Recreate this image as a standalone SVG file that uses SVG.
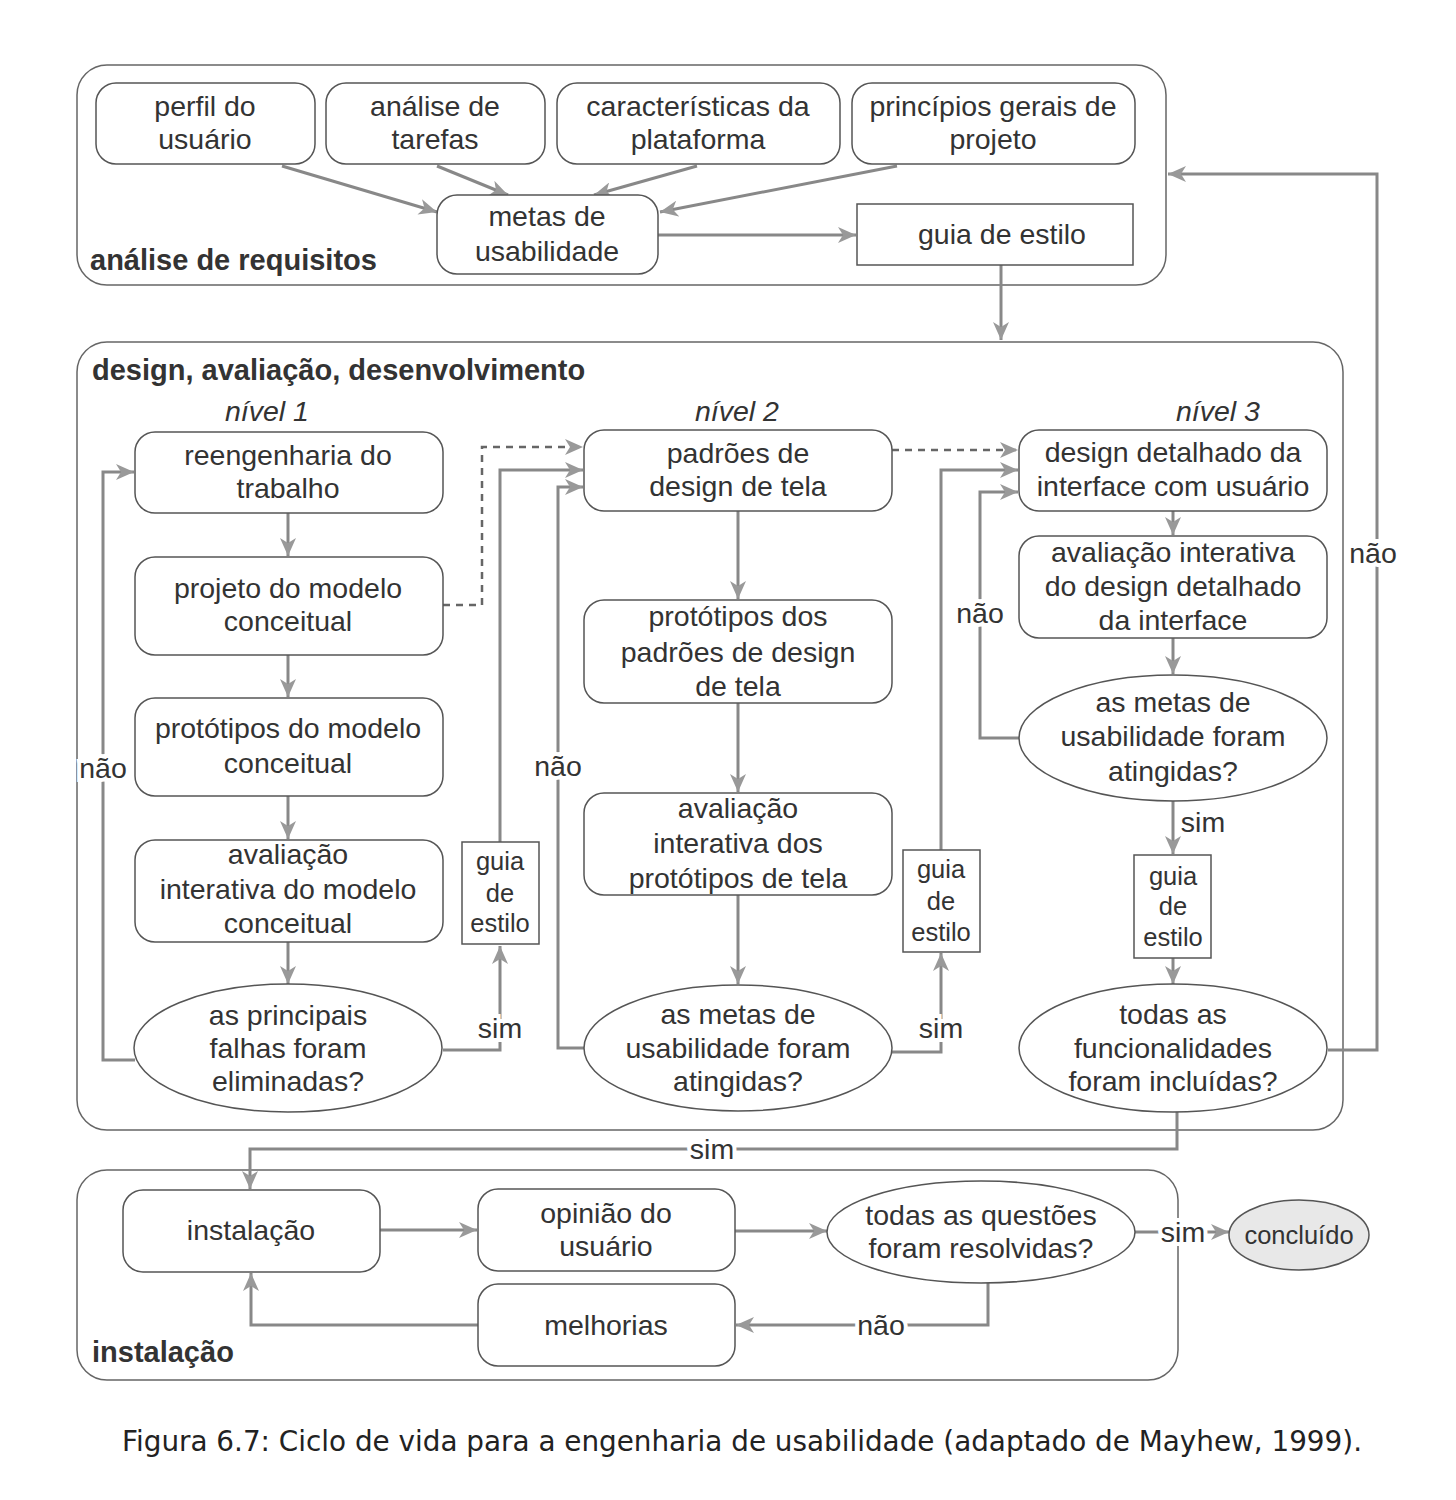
<svg xmlns="http://www.w3.org/2000/svg" width="1456" height="1500" viewBox="0 0 1456 1500">
<defs>
<marker id="ah" markerUnits="userSpaceOnUse" markerWidth="20" markerHeight="16" refX="18" refY="8" orient="auto">
<path d="M0,0 L18,8 L0,16 L5,8 Z" fill="#999"/>
</marker>
</defs>
<style>
.cont{fill:none;stroke:#666;stroke-width:1.5}
.box{fill:#fff;stroke:#555;stroke-width:1.5}
.t{font-family:"Liberation Sans",Arial,sans-serif;font-size:28.5px;fill:#333;text-anchor:middle}
.ts{font-family:"Liberation Sans",Arial,sans-serif;font-size:25.5px;fill:#333;text-anchor:middle}
.lb{font-family:"Liberation Sans",Arial,sans-serif;font-size:29px;font-weight:bold;fill:#333}
.lv{font-family:"Liberation Sans",Arial,sans-serif;font-size:28.5px;font-style:italic;fill:#333;text-anchor:middle}
.c{fill:none;stroke:#888;stroke-width:3}
.ca{fill:none;stroke:#888;stroke-width:3;marker-end:url(#ah)}
.cd{fill:none;stroke:#666;stroke-width:2.5;stroke-dasharray:7,6;marker-end:url(#ah)}
.lab{font-family:"Liberation Sans",Arial,sans-serif;font-size:28.5px;fill:#333;text-anchor:middle;stroke:#fff;stroke-width:8;paint-order:stroke}
</style>
<rect width="1456" height="1500" fill="#fff"/>

<g id="containers">
<rect class="cont" x="77" y="65" width="1089" height="220" rx="30"/>
<rect class="cont" x="77" y="342" width="1266" height="788" rx="30"/>
<rect class="cont" x="77" y="1170" width="1101" height="210" rx="30"/>
<text class="lb" x="90" y="270">análise de requisitos</text>
<text class="lb" x="92" y="380">design, avaliação, desenvolvimento</text>
<text class="lb" x="92" y="1362">instalação</text>
<text class="lv" x="267" y="421">nível 1</text>
<text class="lv" x="737" y="421">nível 2</text>
<text class="lv" x="1218" y="421">nível 3</text>
</g>

<g id="connectors">
<line class="ca" x1="282" y1="166" x2="437" y2="212"/>
<line class="ca" x1="437" y1="166" x2="508" y2="195"/>
<line class="ca" x1="697" y1="166" x2="594" y2="195"/>
<line class="ca" x1="897" y1="166" x2="660" y2="212"/>
<line class="ca" x1="658" y1="235" x2="856" y2="235"/>
<line class="ca" x1="1001" y1="265" x2="1001" y2="340"/>
<polyline class="ca" points="1328,1050 1377,1050 1377,174 1168,174"/>
<text class="lab" x="1373" y="563">não</text>

<line class="ca" x1="288" y1="513" x2="288" y2="556"/>
<line class="ca" x1="288" y1="655" x2="288" y2="697"/>
<line class="ca" x1="288" y1="796" x2="288" y2="839"/>
<line class="ca" x1="288" y1="942" x2="288" y2="984"/>
<polyline class="ca" points="135,1060 103,1060 103,472 134,472"/>
<text class="lab" x="103" y="778">não</text>
<polyline class="ca" points="443,1050 500,1050 500,946"/>
<text class="lab" x="500" y="1038">sim</text>
<polyline class="ca" points="500,842 500,470 583,470"/>
<polyline class="cd" points="443,605 482,605 482,447 583,447"/>

<line class="ca" x1="738" y1="511" x2="738" y2="599"/>
<line class="ca" x1="738" y1="703" x2="738" y2="792"/>
<line class="ca" x1="738" y1="895" x2="738" y2="984"/>
<polyline class="ca" points="584,1048 558,1048 558,487 583,487"/>
<text class="lab" x="558" y="776">não</text>
<polyline class="ca" points="892,1052 941,1052 941,953"/>
<text class="lab" x="941" y="1038">sim</text>
<polyline class="ca" points="941,850 941,470 1018,470"/>
<line class="cd" x1="892" y1="450" x2="1018" y2="450"/>

<line class="ca" x1="1173" y1="511" x2="1173" y2="535"/>
<line class="ca" x1="1173" y1="638" x2="1173" y2="674"/>
<polyline class="ca" points="1019,738 980,738 980,492 1018,492"/>
<text class="lab" x="980" y="623">não</text>
<line class="ca" x1="1173" y1="801" x2="1173" y2="854"/>
<text class="t" x="1203" y="832">sim</text>
<line class="ca" x1="1173" y1="958" x2="1173" y2="984"/>
<polyline class="ca" points="1177,1112 1177,1149 250,1149 250,1189"/>
<text class="lab" x="712" y="1159">sim</text>

<line class="ca" x1="380" y1="1230" x2="477" y2="1230"/>
<line class="ca" x1="735" y1="1231" x2="827" y2="1231"/>
<line class="ca" x1="1135" y1="1232" x2="1229" y2="1232"/>
<text class="lab" x="1183" y="1242">sim</text>
<polyline class="ca" points="988,1283 988,1325 736,1325"/>
<text class="lab" x="881" y="1335">não</text>
<polyline class="ca" points="478,1325 251,1325 251,1273"/>
</g>

<g id="n-perfil"><rect class="box" x="96" y="83" width="219" height="81" rx="20"/><text class="t" x="205" y="116">perfil do</text><text class="t" x="205" y="149">usuário</text></g>
<g id="n-tarefas"><rect class="box" x="326" y="83" width="219" height="81" rx="20"/><text class="t" x="435" y="116">análise de</text><text class="t" x="435" y="149">tarefas</text></g>
<g id="n-plataforma"><rect class="box" x="557" y="83" width="283" height="81" rx="20"/><text class="t" x="698" y="116">características da</text><text class="t" x="698" y="149">plataforma</text></g>
<g id="n-principios"><rect class="box" x="852" y="83" width="283" height="81" rx="20"/><text class="t" x="993" y="116">princípios gerais de</text><text class="t" x="993" y="149">projeto</text></g>
<g id="n-metas"><rect class="box" x="437" y="195" width="221" height="79" rx="20"/><text class="t" x="547" y="226">metas de</text><text class="t" x="547" y="261">usabilidade</text></g>
<g id="n-guia"><rect class="box" x="857" y="204" width="276" height="61"/><text class="t" x="1002" y="244">guia de estilo</text></g>

<g id="n-reeng"><rect class="box" x="135" y="432" width="308" height="81" rx="20"/><text class="t" x="288" y="465">reengenharia do</text><text class="t" x="288" y="498">trabalho</text></g>
<g id="n-projeto"><rect class="box" x="135" y="557" width="308" height="98" rx="20"/><text class="t" x="288" y="598">projeto do modelo</text><text class="t" x="288" y="631">conceitual</text></g>
<g id="n-prot1"><rect class="box" x="135" y="698" width="308" height="98" rx="20"/><text class="t" x="288" y="738">protótipos do modelo</text><text class="t" x="288" y="773">conceitual</text></g>
<g id="n-aval1"><rect class="box" x="135" y="840" width="308" height="102" rx="20"/><text class="t" x="288" y="864">avaliação</text><text class="t" x="288" y="899">interativa do modelo</text><text class="t" x="288" y="933">conceitual</text></g>
<g id="n-dec1"><ellipse class="box" cx="288" cy="1048" rx="154" ry="64"/><text class="t" x="288" y="1025">as principais</text><text class="t" x="288" y="1058">falhas foram</text><text class="t" x="288" y="1091">eliminadas?</text></g>
<g id="n-guia1"><rect class="box" x="462" y="842" width="77" height="102"/><text class="ts" x="500" y="870">guia</text><text class="ts" x="500" y="902">de</text><text class="ts" x="500" y="932">estilo</text></g>

<g id="n-padroes"><rect class="box" x="584" y="430" width="308" height="81" rx="20"/><text class="t" x="738" y="463">padrões de</text><text class="t" x="738" y="496">design de tela</text></g>
<g id="n-prot2"><rect class="box" x="584" y="600" width="308" height="103" rx="20"/><text class="t" x="738" y="626">protótipos dos</text><text class="t" x="738" y="662">padrões de design</text><text class="t" x="738" y="696">de tela</text></g>
<g id="n-aval2"><rect class="box" x="584" y="793" width="308" height="102" rx="20"/><text class="t" x="738" y="818">avaliação</text><text class="t" x="738" y="853">interativa dos</text><text class="t" x="738" y="888">protótipos de tela</text></g>
<g id="n-dec2"><ellipse class="box" cx="738" cy="1048" rx="154" ry="63"/><text class="t" x="738" y="1024">as metas de</text><text class="t" x="738" y="1058">usabilidade foram</text><text class="t" x="738" y="1091">atingidas?</text></g>
<g id="n-guia2"><rect class="box" x="903" y="850" width="77" height="102"/><text class="ts" x="941" y="878">guia</text><text class="ts" x="941" y="910">de</text><text class="ts" x="941" y="941">estilo</text></g>

<g id="n-design"><rect class="box" x="1019" y="430" width="308" height="81" rx="20"/><text class="t" x="1173" y="462">design detalhado da</text><text class="t" x="1173" y="496">interface com usuário</text></g>
<g id="n-aval3"><rect class="box" x="1019" y="536" width="308" height="102" rx="20"/><text class="t" x="1173" y="562">avaliação interativa</text><text class="t" x="1173" y="596">do design detalhado</text><text class="t" x="1173" y="630">da interface</text></g>
<g id="n-dec3"><ellipse class="box" cx="1173" cy="738" rx="154" ry="63"/><text class="t" x="1173" y="712">as metas de</text><text class="t" x="1173" y="746">usabilidade foram</text><text class="t" x="1173" y="781">atingidas?</text></g>
<g id="n-guia3"><rect class="box" x="1134" y="855" width="77" height="103"/><text class="ts" x="1173" y="885">guia</text><text class="ts" x="1173" y="915">de</text><text class="ts" x="1173" y="946">estilo</text></g>
<g id="n-dec4"><ellipse class="box" cx="1173" cy="1048" rx="154" ry="64"/><text class="t" x="1173" y="1024">todas as</text><text class="t" x="1173" y="1058">funcionalidades</text><text class="t" x="1173" y="1091">foram incluídas?</text></g>

<g id="n-instal"><rect class="box" x="123" y="1190" width="257" height="82" rx="20"/><text class="t" x="251" y="1240">instalação</text></g>
<g id="n-opiniao"><rect class="box" x="478" y="1189" width="257" height="82" rx="20"/><text class="t" x="606" y="1223">opinião do</text><text class="t" x="606" y="1256">usuário</text></g>
<g id="n-questoes"><ellipse class="box" cx="981" cy="1232" rx="154" ry="51"/><text class="t" x="981" y="1225">todas as questões</text><text class="t" x="981" y="1258">foram resolvidas?</text></g>
<g id="n-concluido"><ellipse cx="1299" cy="1235" rx="70" ry="35" fill="#e8e8e8" stroke="#555" stroke-width="1.5"/><text class="ts" x="1299" y="1244">concluído</text></g>
<g id="n-melhorias"><rect class="box" x="478" y="1284" width="257" height="82" rx="20"/><text class="t" x="606" y="1335">melhorias</text></g>

<text x="122" y="1451" font-family="'DejaVu Sans',sans-serif" font-size="29" fill="#222" textLength="1240" lengthAdjust="spacingAndGlyphs">Figura 6.7: Ciclo de vida para a engenharia de usabilidade (adaptado de Mayhew, 1999).</text>
</svg>
